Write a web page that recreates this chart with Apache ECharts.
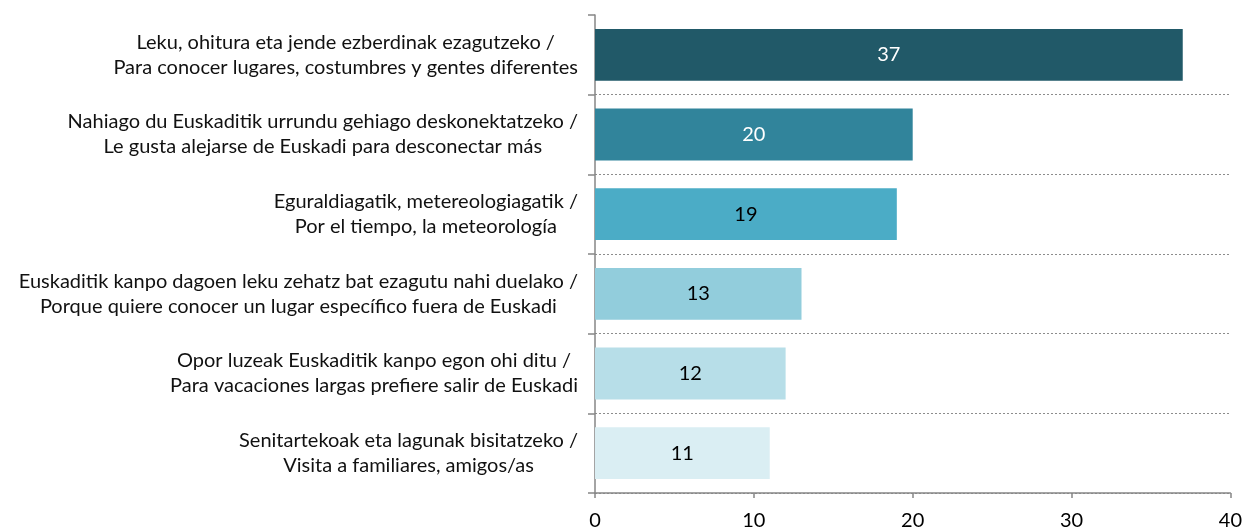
<!DOCTYPE html>
<html>
<head>
<meta charset="utf-8">
<script src="https://cdn.jsdelivr.net/npm/echarts@6/dist/echarts.min.js"></script>
<style>
  html, body { margin: 0; padding: 0; background: #fff; }
  #chart { width: 1245px; height: 531px; }
</style>
</head>
<body>
<div id="chart"></div>
<script>
// motivos (euskera / castellano)
var labels_eu = [
    'Leku, ohitura eta jende ezberdinak ezagutzeko /',
    'Nahiago du Euskaditik urrundu gehiago deskonektatzeko /',
    'Eguraldiagatik, metereologiagatik /',
    'Euskaditik kanpo dagoen leku zehatz bat ezagutu nahi duelako /',
    'Opor luzeak Euskaditik kanpo egon ohi ditu /',
    'Senitartekoak eta lagunak bisitatzeko /'
];
var labels_es = [
    'Para conocer lugares, costumbres y gentes diferentes',
    'Le gusta alejarse de Euskadi para desconectar más',
    'Por el tiempo, la meteorología',
    'Porque quiere conocer un lugar específico fuera de Euskadi',
    'Para vacaciones largas prefiere salir de Euskadi',
    'Visita a familiares, amigos/as'
];
var values = [37, 20, 19, 13, 12, 11];
var x_ticks = [0, 10, 20, 30, 40];

var bar_colors = ['#215968', '#31849B', '#4BACC6', '#92CDDC', '#B7DEE8', '#DAEEF3'];
var label_colors = ['#ffffff', '#ffffff', '#000000', '#000000', '#000000', '#000000'];

var font = 'Lato, "Noto Sans", sans-serif';

function build_categories() {
    var cats = [];
    for (var i = 0; i < labels_eu.length; i++) {
        cats.push(labels_eu[i] + '\n' + labels_es[i]);
    }
    return cats;
}

function build_series_data() {
    return values.map(function (v, i) {
        return {
            value: v,
            itemStyle: { color: bar_colors[i] },
            label: { color: label_colors[i] }
        };
    });
}

var chart = echarts.init(document.getElementById('chart'));
chart.setOption({
    backgroundColor: '#fff',
    animation: false,
    grid: {
        left: 595,
        right: 12,
        top: 15,
        bottom: 38
    },
    xAxis: {
        type: 'value',
        min: x_ticks[0],
        max: x_ticks[x_ticks.length - 1],
        interval: 10,
        axisLine: { show: true, lineStyle: { color: '#868686', width: 1.5 } },
        axisTick: { show: true, length: 5, lineStyle: { color: '#868686', width: 1.5 } },
        axisLabel: { color: '#000', fontSize: 20, fontFamily: font, margin: 18 },
        splitLine: { show: false }
    },
    yAxis: {
        type: 'category',
        inverse: true,
        data: build_categories(),
        axisLine: { show: true, lineStyle: { color: '#868686', width: 1.5 } },
        axisTick: { show: true, length: 7, alignWithLabel: false, lineStyle: { color: '#868686', width: 1.5 } },
        splitLine: {
            show: true,
            showMinLine: false,
            lineStyle: { color: '#8c8c8c', type: [2, 2], width: 1 }
        },
        axisLabel: {
            margin: 17,
            align: 'right',
            lineHeight: 25,
            formatter: function (value) {
                var parts = value.split('\n');
                return '{c|' + parts[0] + '}\n{c|' + parts[1] + '}';
            },
            rich: {
                c: {
                    align: 'center',
                    fontSize: 20,
                    fontFamily: font,
                    color: '#111',
                    lineHeight: 25
                }
            }
        }
    },
    series: [{
        type: 'bar',
        data: build_series_data(),
        barCategoryGap: '35%',
        label: {
            show: true,
            position: 'inside',
            fontSize: 20,
            fontFamily: font
        }
    }]
});
</script>
</body>
</html>
